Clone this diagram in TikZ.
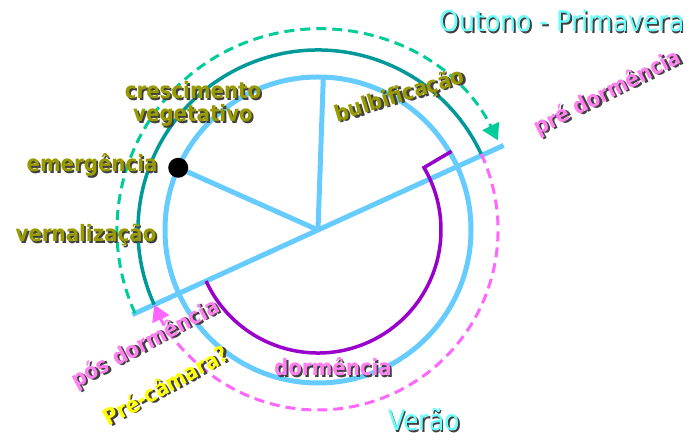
\documentclass[tikz,border=0pt]{standalone}
\usepackage{fontspec}
\setmainfont{DejaVu Sans}[FakeStretch=0.88, BoldFont={DejaVu Sans Bold}]
\usetikzlibrary{arrows.meta}

\definecolor{ringblue}{HTML}{66CCFF}
\definecolor{tealarc}{HTML}{009999}
\definecolor{greendash}{HTML}{00CC99}
\definecolor{pinkdash}{HTML}{FF66FF}
\definecolor{pinktext}{HTML}{FF80EE}
\definecolor{dormpurple}{HTML}{9900CC}
\definecolor{olivetext}{HTML}{999900}
\definecolor{seasoncyan}{HTML}{66FFFF}
\definecolor{yellowtext}{HTML}{FFFF00}

% text with a small dark drop shadow
\newcommand{\shtext}[2]{\makebox[0pt][l]{\hspace{1.8pt}\raisebox{-1.8pt}{\textcolor{black!75}{#2}}}\textcolor{#1}{#2}}

\tikzset{
  ring/.style={draw=ringblue, line width=5pt},
  stage/.style={inner sep=0pt, font=\bfseries\fontsize{22.5}{22.5}\selectfont},
  season/.style={inner sep=0pt, font=\fontsize{28.5}{28.5}\selectfont},
  dashring/.style={line width=3pt, dash pattern=on 10pt off 6pt},
  tip/.style={-{Triangle[length=16pt,width=18pt]}}
}

\begin{document}
\begin{tikzpicture}[x=1pt,y=1pt]
    \useasboundingbox (0,0) rectangle (691,441);
    \coordinate (C) at (318,211);
    \path (C) ++(88:153) coordinate (bulbpt);
    \path (C) ++(156:153) coordinate (emergpt);
    \path (C) ++(24.5:204) coordinate (diagR);
    \path (C) ++(204.5:204) coordinate (diagL);
    \path (C) ++(204.5:123) coordinate (dormA);
    \path (C) ++(204.5:180) coordinate (vegA);
    \path (C) ++(25:180) coordinate (vegB);
    \path (C) ++(204.5:201) coordinate (cycA);

    % circle and spokes
    \draw[ring] (C) circle (153);
    \draw[ring] (C) -- (bulbpt);
    \draw[ring] (C) -- (emergpt);
    \draw[ring] (diagL) -- (diagR);

    % dormancy
    \draw[draw=dormpurple, line width=3.5pt] (dormA) arc[start angle=204.5, end angle=390.5, radius=123] -- ++(30.5:32);

    % growth and cycle arcs
    \draw[draw=tealarc, line width=3.5pt] (vegA) arc[start angle=204.5, end angle=25, radius=180];
    \draw[dashring, draw=greendash, tip] (cycA) arc[start angle=204.5, end angle=26.5, radius=201];
    \draw[dashring, draw=pinkdash, tip] (vegB) arc[start angle=25, end angle=-155.5, radius=180];

    \node[circle, fill=black, inner sep=0pt, minimum size=20pt] (emerg) at (emergpt) {};

    % labels
    \node[season] (outono) at (562,419) {\shtext{seasoncyan}{Outono - Primavera}};
    \node[season] (verao) at (424,20) {\shtext{seasoncyan}{Verão}};
    \node[stage, rotate=27] (pre) at (608,347) {\shtext{pinktext}{pré dormência}};
    \node[stage, rotate=17] (bulb) at (400,344) {\shtext{olivetext}{bulbificação}};
    \node[stage, align=center] (cresc) at (193,336) {\shtext{olivetext}{crescimento}\\\shtext{olivetext}{vegetativo}};
    \node[stage] (emergtxt) at (92,275) {\shtext{olivetext}{emergência}};
    \node[stage] (vern) at (86,205) {\shtext{olivetext}{vernalização}};
    \node[stage, rotate=28] (pos) at (146,96) {\shtext{pinktext}{pós dormência}};
    \node[stage, rotate=29] (camara) at (166,55) {\shtext{yellowtext}{Pré-câmara?}};
    \node[stage] (dorm) at (333,73) {\shtext{pinktext}{dormência}};
\end{tikzpicture}
\end{document}
